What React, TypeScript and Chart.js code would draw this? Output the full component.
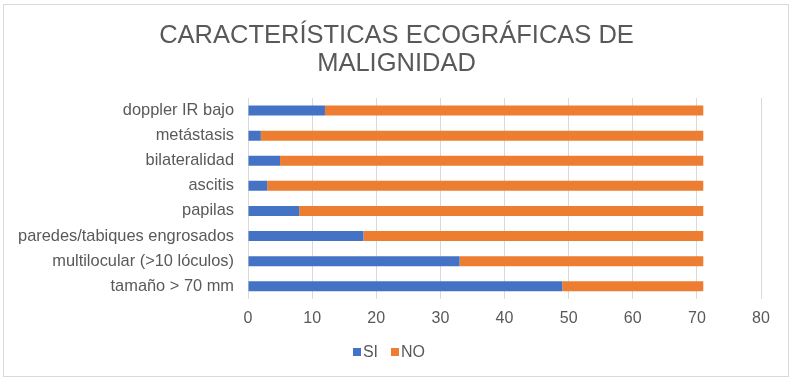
import React, { useEffect, useRef } from "react";
import { Chart, registerables } from "chart.js";

Chart.register(...registerables);

const categories = [
  "doppler IR bajo",
  "metástasis",
  "bilateralidad",
  "ascitis",
  "papilas",
  "paredes/tabiques engrosados",
  "multilocular (>10 lóculos)",
  "tamaño > 70 mm",
];
const siValues = [12, 2, 5, 3, 8, 18, 33, 49];
const noValues = [59, 69, 66, 68, 63, 53, 38, 22];
const seriesNames = ["SI", "NO"];
const seriesColors = ["#4472C4", "#ED7D31"];
const titleLines = ["CARACTERÍSTICAS ECOGRÁFICAS DE", "MALIGNIDAD"];
const xMin = 0;
const xMax = 80;
const xStep = 10;

const FONT = "'Liberation Sans', Arial, sans-serif";
const GRAY = "#595959";

export default function App() {
  const ref = useRef<HTMLCanvasElement | null>(null);

  useEffect(() => {
    if (!ref.current) return;
    const chart = new Chart(ref.current, {
      type: "bar",
      data: {
        labels: categories,
        datasets: [
          {
            label: seriesNames[0],
            data: siValues,
            backgroundColor: seriesColors[0],
            barPercentage: 1,
            categoryPercentage: 0.4,
          },
          {
            label: seriesNames[1],
            data: noValues,
            backgroundColor: seriesColors[1],
            barPercentage: 1,
            categoryPercentage: 0.4,
          },
        ],
      },
      options: {
        indexAxis: "y",
        animation: false,
        responsive: false,
        maintainAspectRatio: false,
        layout: { padding: { left: 0, right: 32, top: 98, bottom: 43 } },
        scales: {
          x: {
            stacked: true,
            min: xMin,
            max: xMax,
            ticks: {
              stepSize: xStep,
              color: GRAY,
              font: { family: FONT, size: 16 },
              padding: 10,
            },
            grid: { color: "#d9d9d9", drawTicks: false, lineWidth: 1 },
            border: { display: false },
          },
          y: {
            stacked: true,
            ticks: {
              color: GRAY,
              font: { family: FONT, size: 16.4 },
              padding: 14,
              autoSkip: false,
            },
            grid: { display: false, drawTicks: false },
            border: { display: false },
            afterFit: (scale: any) => {
              scale.width = 248;
            },
          },
        },
        plugins: {
          title: { display: false },
          legend: { display: false },
          tooltip: { enabled: false },
        },
      },
    });
    return () => chart.destroy();
  }, []);

  return (
    <div style={{ position: "fixed", left: 0, top: 0, width: 793, height: 381, background: "#fff" }}>
      <div
        style={{
          position: "absolute",
          left: 3,
          top: 4,
          width: 786,
          height: 373,
          border: "1px solid #d9d9d9",
          boxSizing: "border-box",
        }}
      />
      <canvas ref={ref} width={793} height={381} style={{ position: "absolute", left: 0, top: 0 }} />
      <div
        style={{
          position: "absolute",
          left: 0,
          width: 793,
          top: 20,
          textAlign: "center",
          fontFamily: FONT,
          fontSize: 25.5,
          lineHeight: "28px",
          color: GRAY,
        }}
      >
        {titleLines.map((t) => (
          <div key={t}>{t}</div>
        ))}
      </div>
      <div
        style={{
          position: "absolute",
          left: 0,
          width: 778,
          top: 342,
          display: "flex",
          justifyContent: "center",
          gap: 13,
          fontFamily: FONT,
          fontSize: 16,
          color: GRAY,
          lineHeight: "20px",
        }}
      >
        {seriesNames.map((n, i) => (
          <span key={n} style={{ display: "flex", alignItems: "center", gap: 2 }}>
            <span style={{ width: 8, height: 8, background: seriesColors[i], display: "inline-block" }} />
            {n}
          </span>
        ))}
      </div>
    </div>
  );
}
